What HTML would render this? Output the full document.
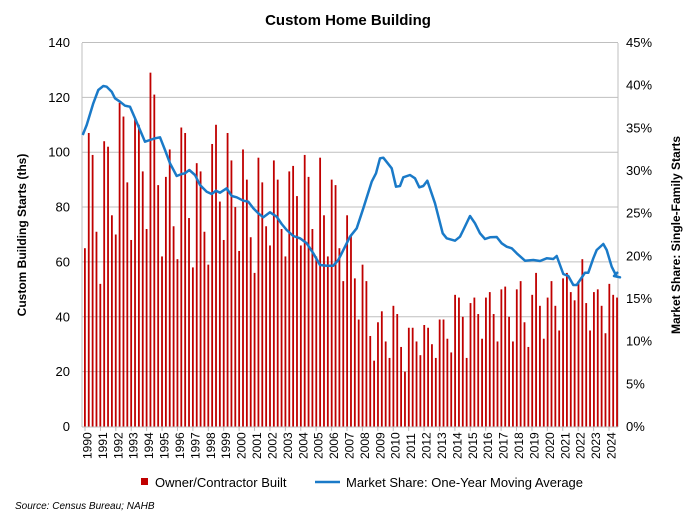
<!DOCTYPE html>
<html><head><meta charset="utf-8"><style>
body{margin:0;background:#fff;}
svg{font-family:"Liberation Sans",sans-serif;}
</style></head><body>
<svg id="c" width="696" height="522" xmlns="http://www.w3.org/2000/svg">
<text x="348" y="25" text-anchor="middle" font-size="15" font-weight="bold">Custom Home Building</text>
<g id="grid"></g><g id="bars"></g><g id="line"></g><g id="labels" font-size="13" fill="#000"></g>
<text transform="translate(26,235) rotate(-90)" text-anchor="middle" font-size="12" font-weight="bold">Custom Building Starts (ths)</text>
<text transform="translate(680,235) rotate(-90)" text-anchor="middle" font-size="12" font-weight="bold">Market Share: Single-Family Starts</text>
<rect x="141" y="478" width="7" height="7" fill="#c00000"/>
<text x="155" y="487" font-size="13">Owner/Contractor Built</text>
<line x1="315" y1="482" x2="340" y2="482" stroke="#1a7ac8" stroke-width="2.5"/>
<text x="346" y="487" font-size="13">Market Share: One-Year Moving Average</text>
<text x="15" y="509" font-size="10" font-style="italic">Source: Census Bureau; NAHB</text>
</svg>
<script>
var NS="http://www.w3.org/2000/svg";
function el(p,t,a,txt){var e=document.createElementNS(NS,t);for(var k in a)e.setAttribute(k,a[k]);if(txt!=null)e.textContent=txt;document.getElementById(p).appendChild(e);return e;}
var L=82,R=618,Y0=426.5,S=2.743;
for(var v=0;v<=140;v+=20){var y=Y0-v*S;if(v>0)el("grid","line",{x1:L,x2:R,y1:y,y2:y,stroke:"#bfbfbf","stroke-width":1});
el("labels","text",{x:70,y:y+4.5,"text-anchor":"end"},v);}
for(var p=0;p<=45;p+=5){var y=Y0-p/45*384;el("labels","text",{x:626,y:y+4.5},p+"%");}
el("grid","line",{x1:L,x2:L,y1:43,y2:427,stroke:"#bfbfbf"});
el("grid","line",{x1:R,x2:R,y1:43,y2:427,stroke:"#bfbfbf"});
el("grid","line",{x1:L,x2:R,y1:427,y2:427,stroke:"#bfbfbf"});
var d=[65,107,99,71,52,104,102,77,70,118,113,89,68,112,110,93,72,129,121,88,62,91,101,73,61,109,107,76,58,96,93,71,59,103,110,82,68,107,97,80,64,101,90,69,56,98,89,73,66,97,90,72,62,93,95,84,66,99,91,72,62,98,77,62,90,
88,65,53,77,70,54,39,59,53,33,24,38,42,31,25,44,41,29,20,36,36,31,26,37,36,30,25,39,39,32,27,48,47,40,25,45,47,41,32,47,49,41,31,50,51,40,31,50,53,38,29,48,56,44,32,47,53,44,35,54,56,49,46,53,61,45,35,49,50,44,34,52,48,47];
var n=d.length,st=(R-L)/n;
for(var i=0;i<n;i++){var x=L+2+i*st;el("bars","rect",{x:x,y:Y0-d[i]*S,width:1.8,height:d[i]*S,fill:"#c00000"});}
for(var yr=1990;yr<=2024;yr++){var x=87+(yr-1990)*(611-87)/34;
el("labels","text",{transform:"translate("+(x+4.5)+",459) rotate(-90)","font-size":12},yr);
el("grid","line",{x1:x-2,x2:x-2,y1:427,y2:431,stroke:"#bfbfbf"});}
var z1=[[8,225],[20,195],[40,130],[55,90],[70,78],[80,80],[95,95],[105,115],[120,125],[135,137],[150,140],[165,175],[180,210],[195,245],[210,240],[225,235],[240,232],[255,270],[270,310],[290,348],[305,342],[315,340],[328,330],[345,345],[360,375],[380,395],[395,402],[408,392],[420,398],[440,385],[455,408],[470,412],[490,422],[505,425],[520,445],[535,460],[550,472],[570,457],[590,470],[605,492],[620,510],[640,528],[660,535],[680,550],[700,580],[720,615],[740,617],[760,617],[775,600],[790,570]];
var z2=[[0,590],[15,560],[30,530],[50,505],[70,445],[95,365],[108,340],[120,295],[130,293],[155,325],[168,380],[180,378],[190,352],[210,345],[225,355],[238,382],[250,378],[262,362],[285,430],[308,520],[320,535],[345,542],[360,530],[370,510],[390,468],[405,490],[420,520],[435,537],[450,532],[470,531],[485,550],[500,560],[515,565],[530,580],[555,602],[580,600],[600,603],[620,595],[640,597],[650,588],[670,642],[685,648],[700,675],[710,675],[735,638],[745,638],[760,595],[770,570],[790,552],[800,570],[815,620],[830,650],[840,652]];
var pts=[];z1.forEach(function(q){pts.push((80+q[0]/3).toFixed(1)+","+(60+q[1]/3).toFixed(1));});
z2.forEach(function(q){pts.push((340+q[0]/3).toFixed(1)+","+(60+q[1]/3).toFixed(1));});
pts.push("614,276");pts.push("618,272");
el("line","polyline",{points:pts.join(" "),fill:"none",stroke:"#1a7ac8","stroke-width":2.5,"stroke-linejoin":"round"});
</script>
</body></html>
